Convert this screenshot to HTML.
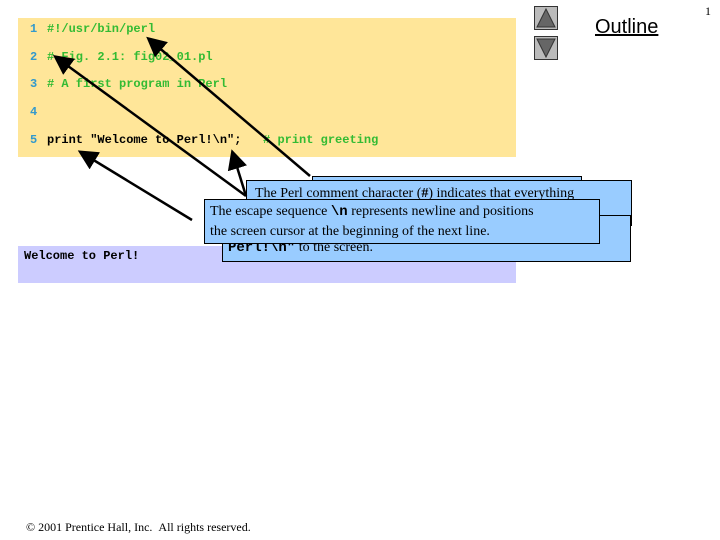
<!DOCTYPE html>
<html><head><style>
body{margin:0;width:720px;height:540px;background:#fff;position:relative;overflow:hidden;font-family:"Liberation Serif",serif}
.a{position:absolute}
.code{font-family:"Liberation Mono",monospace;font-weight:bold;font-size:12px}
.g{color:#33bb33}.n{color:#3399cc;display:inline-block;width:17px}
.box{position:absolute;background:#99ccff;border:1px solid #000;font-size:14px;line-height:19px;padding:0 5px;box-sizing:border-box;white-space:nowrap;overflow:hidden}
</style></head><body>
<div class="a" style="left:18px;top:18px;width:498px;height:139px;background:#ffe699"></div>
<div class="a code" style="left:30px;top:16px;line-height:27.7px;white-space:pre"><div><span class="n">1</span><span class="g">#!/usr/bin/perl</span></div><div><span class="n">2</span><span class="g"># Fig. 2.1: fig02_01.pl</span></div><div><span class="n">3</span><span class="g"># A first program in Perl</span></div><div><span class="n">4</span></div><div><span class="n">5</span>print "Welcome to Perl!\n";   <span class="g"># print greeting</span></div></div>
<div class="a" style="left:18px;top:246px;width:498px;height:37px;background:#ccccff"></div>
<div class="a code" style="left:24px;top:249px">Welcome to Perl!</div>
<div class="a" style="left:534px;top:6px;width:24px;height:24px;background:#bbb;border:1px solid #333;box-sizing:border-box"></div>
<div class="a" style="left:534px;top:36px;width:24px;height:24px;background:#bbb;border:1px solid #333;box-sizing:border-box"></div>
<svg class="a" style="left:0;top:0" width="720" height="540">
<polygon points="546,9 537,27 555,27" fill="#666" stroke="#333"/>
<polygon points="537,39 555,39 546,57" fill="#666" stroke="#333"/>
</svg>
<div class="a" style="left:595px;top:16px;font-family:'Liberation Sans',sans-serif;font-size:20px;text-decoration:underline">Outline</div>
<div class="a" style="left:705px;top:4px;font-size:12px">1</div>
<div class="box" style="left:312px;top:176px;width:270px;height:26px"></div>
<div class="box" style="left:246px;top:180px;width:386px;height:46px;padding-left:8px;line-height:26px">The Perl comment character (<b>#</b>) indicates that everything</div>
<div class="box" style="left:222px;top:215px;width:409px;height:47px;line-height:20px;padding-top:22px"><b style="font-family:'Liberation Mono',monospace">Perl!\n"</b> to the screen.</div>
<div class="box" style="left:204px;top:199px;width:396px;height:45px;padding-top:2px">The escape sequence <b style="font-family:'Liberation Mono',monospace">\n</b> represents newline and positions<br>the screen cursor at the beginning of the next line.</div>
<svg class="a" style="left:0;top:0" width="720" height="540">
<defs><marker id="m" markerWidth="8" markerHeight="8" refX="6" refY="4" orient="auto"><path d="M0,0 L8,4 L0,8 z"/></marker></defs>
<g stroke="#000" stroke-width="2.5" marker-end="url(#m)">
<line x1="310" y1="176" x2="150" y2="40"/>
<line x1="246" y1="196" x2="57" y2="58"/>
<line x1="246" y1="196" x2="233" y2="154"/>
<line x1="192" y1="220" x2="82" y2="153"/>
</g></svg>
<div class="a" style="left:26px;top:520px;font-size:12px">© 2001 Prentice Hall, Inc. &nbsp;All rights reserved.</div>
</body></html>
